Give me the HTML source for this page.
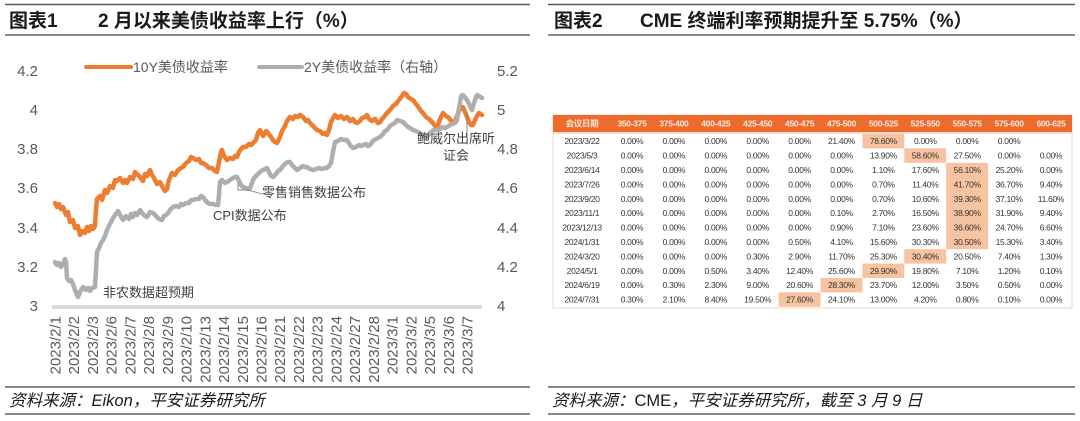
<!DOCTYPE html>
<html><head><meta charset="utf-8">
<style>
html,body{margin:0;padding:0;background:#fff;}
svg{display:block;}
.ttl{font-family:"Liberation Sans","Noto Sans CJK SC",sans-serif;font-weight:bold;font-size:19px;fill:#1a1a1a;}
.ax{font-family:"Liberation Sans","Noto Sans CJK SC",sans-serif;font-size:15px;fill:#595959;}
.lg{font-family:"Liberation Sans","Noto Sans CJK SC",sans-serif;font-size:14px;fill:#595959;}
.an{font-family:"Liberation Sans","Noto Sans CJK SC",sans-serif;font-size:13px;fill:#404040;}
.ft{font-family:"Liberation Sans","Noto Sans CJK SC",sans-serif;font-size:16.5px;font-style:italic;fill:#1a1a1a;}
.up{font-style:normal;}
.tb{font-family:"Liberation Sans","Noto Sans CJK SC",sans-serif;font-size:8.5px;letter-spacing:-0.3px;fill:#333;}
.th{font-family:"Liberation Sans","Noto Sans CJK SC",sans-serif;font-size:8.5px;font-weight:bold;letter-spacing:-0.3px;fill:#fde9dc;}
</style></head>
<body>
<svg width="1080" height="421" viewBox="0 0 1080 421" xmlns="http://www.w3.org/2000/svg">
<rect width="1080" height="421" fill="#fff"/>

<!-- ===== LEFT PANEL ===== -->
<line x1="5" y1="4.5" x2="530" y2="4.5" stroke="#595959" stroke-width="1.5"/>
<line x1="5" y1="35" x2="530" y2="35" stroke="#8c8c8c" stroke-width="2"/>
<text class="ttl" x="9" y="27">图表1</text>
<text class="ttl" x="98" y="27">2 月以来美债收益率上行（%）</text>

<!-- legend -->
<line x1="86" y1="67" x2="131" y2="67" stroke="#ED7D31" stroke-width="4" stroke-linecap="round"/>
<text class="lg" x="133" y="72">10Y美债收益率</text>
<line x1="259" y1="67" x2="302" y2="67" stroke="#AEAEAE" stroke-width="4" stroke-linecap="round"/>
<text class="lg" x="304" y="72">2Y美债收益率（右轴）</text>

<!-- left axis -->
<g class="ax" text-anchor="end">
<text x="38" y="76">4.2</text>
<text x="38" y="115">4</text>
<text x="38" y="154">3.8</text>
<text x="38" y="193">3.6</text>
<text x="38" y="233">3.4</text>
<text x="38" y="272">3.2</text>
<text x="38" y="311">3</text>
</g>
<!-- right axis -->
<g class="ax" text-anchor="start">
<text x="497" y="76">5.2</text>
<text x="497" y="115">5</text>
<text x="497" y="154">4.8</text>
<text x="497" y="193">4.6</text>
<text x="497" y="233">4.4</text>
<text x="497" y="272">4.2</text>
<text x="497" y="311">4</text>
</g>

<!-- x axis line -->
<line x1="52" y1="307" x2="482" y2="307" stroke="#D9D9D9" stroke-width="4"/>

<!-- date labels -->
<g class="ax" text-anchor="end">
<text transform="translate(60.5,316) rotate(-90)">2023/2/1</text>
<text transform="translate(79.2,316) rotate(-90)">2023/2/2</text>
<text transform="translate(98,316) rotate(-90)">2023/2/3</text>
<text transform="translate(116.7,316) rotate(-90)">2023/2/6</text>
<text transform="translate(135.4,316) rotate(-90)">2023/2/7</text>
<text transform="translate(154.1,316) rotate(-90)">2023/2/8</text>
<text transform="translate(172.9,316) rotate(-90)">2023/2/9</text>
<text transform="translate(191.6,316) rotate(-90)">2023/2/10</text>
<text transform="translate(210.3,316) rotate(-90)">2023/2/13</text>
<text transform="translate(229,316) rotate(-90)">2023/2/14</text>
<text transform="translate(247.8,316) rotate(-90)">2023/2/15</text>
<text transform="translate(266.5,316) rotate(-90)">2023/2/16</text>
<text transform="translate(285.2,316) rotate(-90)">2023/2/21</text>
<text transform="translate(304,316) rotate(-90)">2023/2/22</text>
<text transform="translate(322.7,316) rotate(-90)">2023/2/23</text>
<text transform="translate(341.4,316) rotate(-90)">2023/2/24</text>
<text transform="translate(360.1,316) rotate(-90)">2023/2/27</text>
<text transform="translate(378.9,316) rotate(-90)">2023/2/28</text>
<text transform="translate(397.6,316) rotate(-90)">2023/3/1</text>
<text transform="translate(416.3,316) rotate(-90)">2023/3/2</text>
<text transform="translate(435,316) rotate(-90)">2023/3/5</text>
<text transform="translate(453.8,316) rotate(-90)">2023/3/6</text>
<text transform="translate(472.5,316) rotate(-90)">2023/3/7</text>
</g>

<!-- 10Y orange series -->
<polyline fill="none" stroke="#ED7D31" stroke-width="4.5" stroke-linejoin="round" stroke-linecap="round" points="55,203 57,207 59,204 61,209 63,207 66,215 68,212 70,222 73,220 75,228 78,226 80,235 82,231 85,233 87,227 89,231 91,226 93,229 95,226 96,210 97,199 100,196 102,200 105,190 107,193 110,186 113,188 115,180 117,181 120,178 123,183 125,180 127,183 130,177 133,179 135,172 137,174 140,177 143,181 145,174 147,176 150,170 152,175 154,178 157,184 160,182 163,188 165,191 167,189 169,180 172,173 175,175 178,170 181,168 183,167 186,163 189,161 191,157 193,158 196,160 199,159 201,163 203,163 206,165 209,168 212,168 215,171 217,172 219,162 221,152 222,150 224,156 227,160 230,158 233,159 235,156 237,157 239,152 241,149 243,147 246,147 249,144 251,145 253,143 256,140 258,133 260,130 263,136 266,131 268,133 271,137 273,140 275,142 277,143 280,137 282,131 285,126 287,121 290,117 293,119 295,116 298,117 300,115 303,117 306,121 308,120 310,123 313,126 315,128 317,130 320,131 323,134 325,133 327,135 329,130 331,122 333,118 335,115 338,118 341,116 344,119 347,117 350,121 353,119 355,122 357,123 360,121 362,118 365,117 367,115 369,119 372,121 375,119 378,123 380,122 382,119 384,117 386,114 388,112 390,110 393,106 396,104 399,100 402,96 404,93 406,94 408,97 411,99 413,100 416,104 419,108 421,111 423,113 426,117 429,119 432,122 435,126 437,127 439,122 441,117 443,113 446,116 449,118 451,121 453,123 455,121 457,116 459,111 461,108 463,107 465,112 467,117 469,122 471,125 473,125 475,120 477,116 479,113 482,115"/>

<!-- 2Y gray series -->
<polyline fill="none" stroke="#AEAEAE" stroke-width="4.5" stroke-linejoin="round" stroke-linecap="round" points="55,262 57,265 59,263 61,267 63,264 65,259 66,262 67,278 69,281 71,280 73,284 75,290 77,295 78,297 80,292 83,287 86,290 88,288 90,291 92,288 95,287 96,270 97,252 99,248 101,243 103,240 105,236 107,230 110,224 112,220 115,215 118,211 120,215 123,220 126,216 129,219 131,214 133,217 135,213 137,215 140,210 142,213 145,216 147,217 150,212 153,213 156,216 159,219 162,220 164,216 166,215 168,213 170,210 173,207 176,206 179,207 181,204 183,205 186,203 189,203 191,200 193,200 196,199 199,199 201,196 203,197 205,200 208,203 210,204 213,204 216,205 218,205 219,195 220,182 222,180 225,183 227,182 230,180 233,178 235,177 237,177 239,181 241,185 243,187 246,188 248,189 250,188 252,183 254,178 257,175 260,172 263,170 265,169 267,168 269,172 271,176 273,177 276,174 278,171 280,170 283,166 286,163 288,162 290,162 292,165 295,168 297,170 300,168 303,166 305,167 307,167 310,169 313,170 316,169 319,168 322,169 325,168 327,168 329,166 331,163 333,152 335,142 338,141 341,139 344,140 347,140 350,145 353,148 356,147 359,145 361,146 363,145 366,144 368,146 370,145 373,141 376,139 378,138 380,137 383,134 385,131 387,130 390,126 393,124 395,123 397,120 400,121 403,122 405,124 408,127 410,128 413,130 416,131 418,132 420,133 423,135 425,137 427,137 429,134 431,132 434,130 437,130 440,129 442,127 445,128 447,127 450,125 452,124 455,123 457,120 459,108 461,97 462,95 464,96 467,100 469,104 471,108 472,110 474,103 476,97 477,95 479,96 482,98"/>

<!-- annotations -->
<polyline fill="none" stroke="#7f7f7f" stroke-width="0.9" points="238,183 238,190 248,190 262,194"/>
<line x1="467" y1="113" x2="467" y2="138" stroke="#7f7f7f" stroke-width="0.9"/>
<text class="an" x="103" y="297">非农数据超预期</text>
<text class="an" x="213" y="220">CPI数据公布</text>
<text class="an" x="262" y="197">零售销售数据公布</text>
<text class="an" x="417" y="143">鲍威尔出席听</text>
<text class="an" x="443" y="160">证会</text>

<!-- left footer -->
<line x1="5" y1="387" x2="530" y2="387" stroke="#404040" stroke-width="1.2"/>
<line x1="5" y1="414" x2="530" y2="414" stroke="#404040" stroke-width="1.2"/>
<text class="ft" x="9" y="406">资料来源：Eikon，平安证券研究所</text>

<!-- ===== RIGHT PANEL ===== -->
<line x1="548" y1="4.5" x2="1075" y2="4.5" stroke="#595959" stroke-width="1.5"/>
<line x1="548" y1="35" x2="1075" y2="35" stroke="#8c8c8c" stroke-width="2"/>
<text class="ttl" x="554" y="27">图表2</text>
<text class="ttl" x="640" y="27">CME 终端利率预期提升至 5.75%（%）</text>

<!-- table -->
<rect x="553" y="115" width="519" height="193" fill="#fff" stroke="#F3D6C4" stroke-width="1"/>
<rect x="553" y="115" width="519" height="17" fill="#EC6B2D"/>
<rect x="553" y="132" width="519" height="2" fill="#F6C6A8" opacity="0.6"/>

<!-- highlights -->
<g fill="#F7C3A0">
<rect x="862.4" y="134" width="41.9" height="14.4"/>
<rect x="904.3" y="148.4" width="41.9" height="14.4"/>
<rect x="946.2" y="162.8" width="41.9" height="86.4"/>
<rect x="904.3" y="249.2" width="41.9" height="14.4"/>
<rect x="862.4" y="263.6" width="41.9" height="14.4"/>
<rect x="820.5" y="278" width="41.9" height="14.4"/>
<rect x="778.6" y="292.4" width="41.9" height="14.4"/>
</g>

<text class="th" y="126.5" text-anchor="middle"><tspan x="582">会议日期</tspan><tspan x="632">350-375</tspan><tspan x="673.9">375-400</tspan><tspan x="715.8">400-425</tspan><tspan x="757.7">425-450</tspan><tspan x="799.6">450-475</tspan><tspan x="841.5">475-500</tspan><tspan x="883.4">500-525</tspan><tspan x="925.3">525-550</tspan><tspan x="967.2">550-575</tspan><tspan x="1009.1">575-600</tspan><tspan x="1051">600-625</tspan></text>

<g class="tb" text-anchor="middle">
<text y="144.2"><tspan x="582">2023/3/22</tspan><tspan x="632">0.00%</tspan><tspan x="673.9">0.00%</tspan><tspan x="715.8">0.00%</tspan><tspan x="757.7">0.00%</tspan><tspan x="799.6">0.00%</tspan><tspan x="841.5">21.40%</tspan><tspan x="883.4">78.60%</tspan><tspan x="925.3">0.00%</tspan><tspan x="967.2">0.00%</tspan><tspan x="1009.1">0.00%</tspan></text>
<text y="158.6"><tspan x="582">2023/5/3</tspan><tspan x="632">0.00%</tspan><tspan x="673.9">0.00%</tspan><tspan x="715.8">0.00%</tspan><tspan x="757.7">0.00%</tspan><tspan x="799.6">0.00%</tspan><tspan x="841.5">0.00%</tspan><tspan x="883.4">13.90%</tspan><tspan x="925.3">58.60%</tspan><tspan x="967.2">27.50%</tspan><tspan x="1009.1">0.00%</tspan><tspan x="1051">0.00%</tspan></text>
<text y="173"><tspan x="582">2023/6/14</tspan><tspan x="632">0.00%</tspan><tspan x="673.9">0.00%</tspan><tspan x="715.8">0.00%</tspan><tspan x="757.7">0.00%</tspan><tspan x="799.6">0.00%</tspan><tspan x="841.5">0.00%</tspan><tspan x="883.4">1.10%</tspan><tspan x="925.3">17.60%</tspan><tspan x="967.2">56.10%</tspan><tspan x="1009.1">25.20%</tspan><tspan x="1051">0.00%</tspan></text>
<text y="187.4"><tspan x="582">2023/7/26</tspan><tspan x="632">0.00%</tspan><tspan x="673.9">0.00%</tspan><tspan x="715.8">0.00%</tspan><tspan x="757.7">0.00%</tspan><tspan x="799.6">0.00%</tspan><tspan x="841.5">0.00%</tspan><tspan x="883.4">0.70%</tspan><tspan x="925.3">11.40%</tspan><tspan x="967.2">41.70%</tspan><tspan x="1009.1">36.70%</tspan><tspan x="1051">9.40%</tspan></text>
<text y="201.8"><tspan x="582">2023/9/20</tspan><tspan x="632">0.00%</tspan><tspan x="673.9">0.00%</tspan><tspan x="715.8">0.00%</tspan><tspan x="757.7">0.00%</tspan><tspan x="799.6">0.00%</tspan><tspan x="841.5">0.00%</tspan><tspan x="883.4">0.70%</tspan><tspan x="925.3">10.60%</tspan><tspan x="967.2">39.30%</tspan><tspan x="1009.1">37.10%</tspan><tspan x="1051">11.60%</tspan></text>
<text y="216.2"><tspan x="582">2023/11/1</tspan><tspan x="632">0.00%</tspan><tspan x="673.9">0.00%</tspan><tspan x="715.8">0.00%</tspan><tspan x="757.7">0.00%</tspan><tspan x="799.6">0.00%</tspan><tspan x="841.5">0.10%</tspan><tspan x="883.4">2.70%</tspan><tspan x="925.3">16.50%</tspan><tspan x="967.2">38.90%</tspan><tspan x="1009.1">31.90%</tspan><tspan x="1051">9.40%</tspan></text>
<text y="230.6"><tspan x="582">2023/12/13</tspan><tspan x="632">0.00%</tspan><tspan x="673.9">0.00%</tspan><tspan x="715.8">0.00%</tspan><tspan x="757.7">0.00%</tspan><tspan x="799.6">0.00%</tspan><tspan x="841.5">0.90%</tspan><tspan x="883.4">7.10%</tspan><tspan x="925.3">23.60%</tspan><tspan x="967.2">36.60%</tspan><tspan x="1009.1">24.70%</tspan><tspan x="1051">6.60%</tspan></text>
<text y="245"><tspan x="582">2024/1/31</tspan><tspan x="632">0.00%</tspan><tspan x="673.9">0.00%</tspan><tspan x="715.8">0.00%</tspan><tspan x="757.7">0.00%</tspan><tspan x="799.6">0.50%</tspan><tspan x="841.5">4.10%</tspan><tspan x="883.4">15.60%</tspan><tspan x="925.3">30.30%</tspan><tspan x="967.2">30.50%</tspan><tspan x="1009.1">15.30%</tspan><tspan x="1051">3.40%</tspan></text>
<text y="259.4"><tspan x="582">2024/3/20</tspan><tspan x="632">0.00%</tspan><tspan x="673.9">0.00%</tspan><tspan x="715.8">0.00%</tspan><tspan x="757.7">0.30%</tspan><tspan x="799.6">2.90%</tspan><tspan x="841.5">11.70%</tspan><tspan x="883.4">25.30%</tspan><tspan x="925.3">30.40%</tspan><tspan x="967.2">20.50%</tspan><tspan x="1009.1">7.40%</tspan><tspan x="1051">1.30%</tspan></text>
<text y="273.8"><tspan x="582">2024/5/1</tspan><tspan x="632">0.00%</tspan><tspan x="673.9">0.00%</tspan><tspan x="715.8">0.50%</tspan><tspan x="757.7">3.40%</tspan><tspan x="799.6">12.40%</tspan><tspan x="841.5">25.60%</tspan><tspan x="883.4">29.90%</tspan><tspan x="925.3">19.80%</tspan><tspan x="967.2">7.10%</tspan><tspan x="1009.1">1.20%</tspan><tspan x="1051">0.10%</tspan></text>
<text y="288.2"><tspan x="582">2024/6/19</tspan><tspan x="632">0.00%</tspan><tspan x="673.9">0.30%</tspan><tspan x="715.8">2.30%</tspan><tspan x="757.7">9.00%</tspan><tspan x="799.6">20.60%</tspan><tspan x="841.5">28.30%</tspan><tspan x="883.4">23.70%</tspan><tspan x="925.3">12.00%</tspan><tspan x="967.2">3.50%</tspan><tspan x="1009.1">0.50%</tspan><tspan x="1051">0.00%</tspan></text>
<text y="302.6"><tspan x="582">2024/7/31</tspan><tspan x="632">0.30%</tspan><tspan x="673.9">2.10%</tspan><tspan x="715.8">8.40%</tspan><tspan x="757.7">19.50%</tspan><tspan x="799.6">27.60%</tspan><tspan x="841.5">24.10%</tspan><tspan x="883.4">13.00%</tspan><tspan x="925.3">4.20%</tspan><tspan x="967.2">0.80%</tspan><tspan x="1009.1">0.10%</tspan><tspan x="1051">0.00%</tspan></text>
</g>

<!-- right footer -->
<line x1="548" y1="387" x2="1075" y2="387" stroke="#404040" stroke-width="1.2"/>
<line x1="548" y1="414" x2="1075" y2="414" stroke="#404040" stroke-width="1.2"/>
<text class="ft" x="552" y="406">资料来源：<tspan class="up">CME</tspan>，平安证券研究所，截至 3 月 9 日</text>
</svg>
</body></html>
